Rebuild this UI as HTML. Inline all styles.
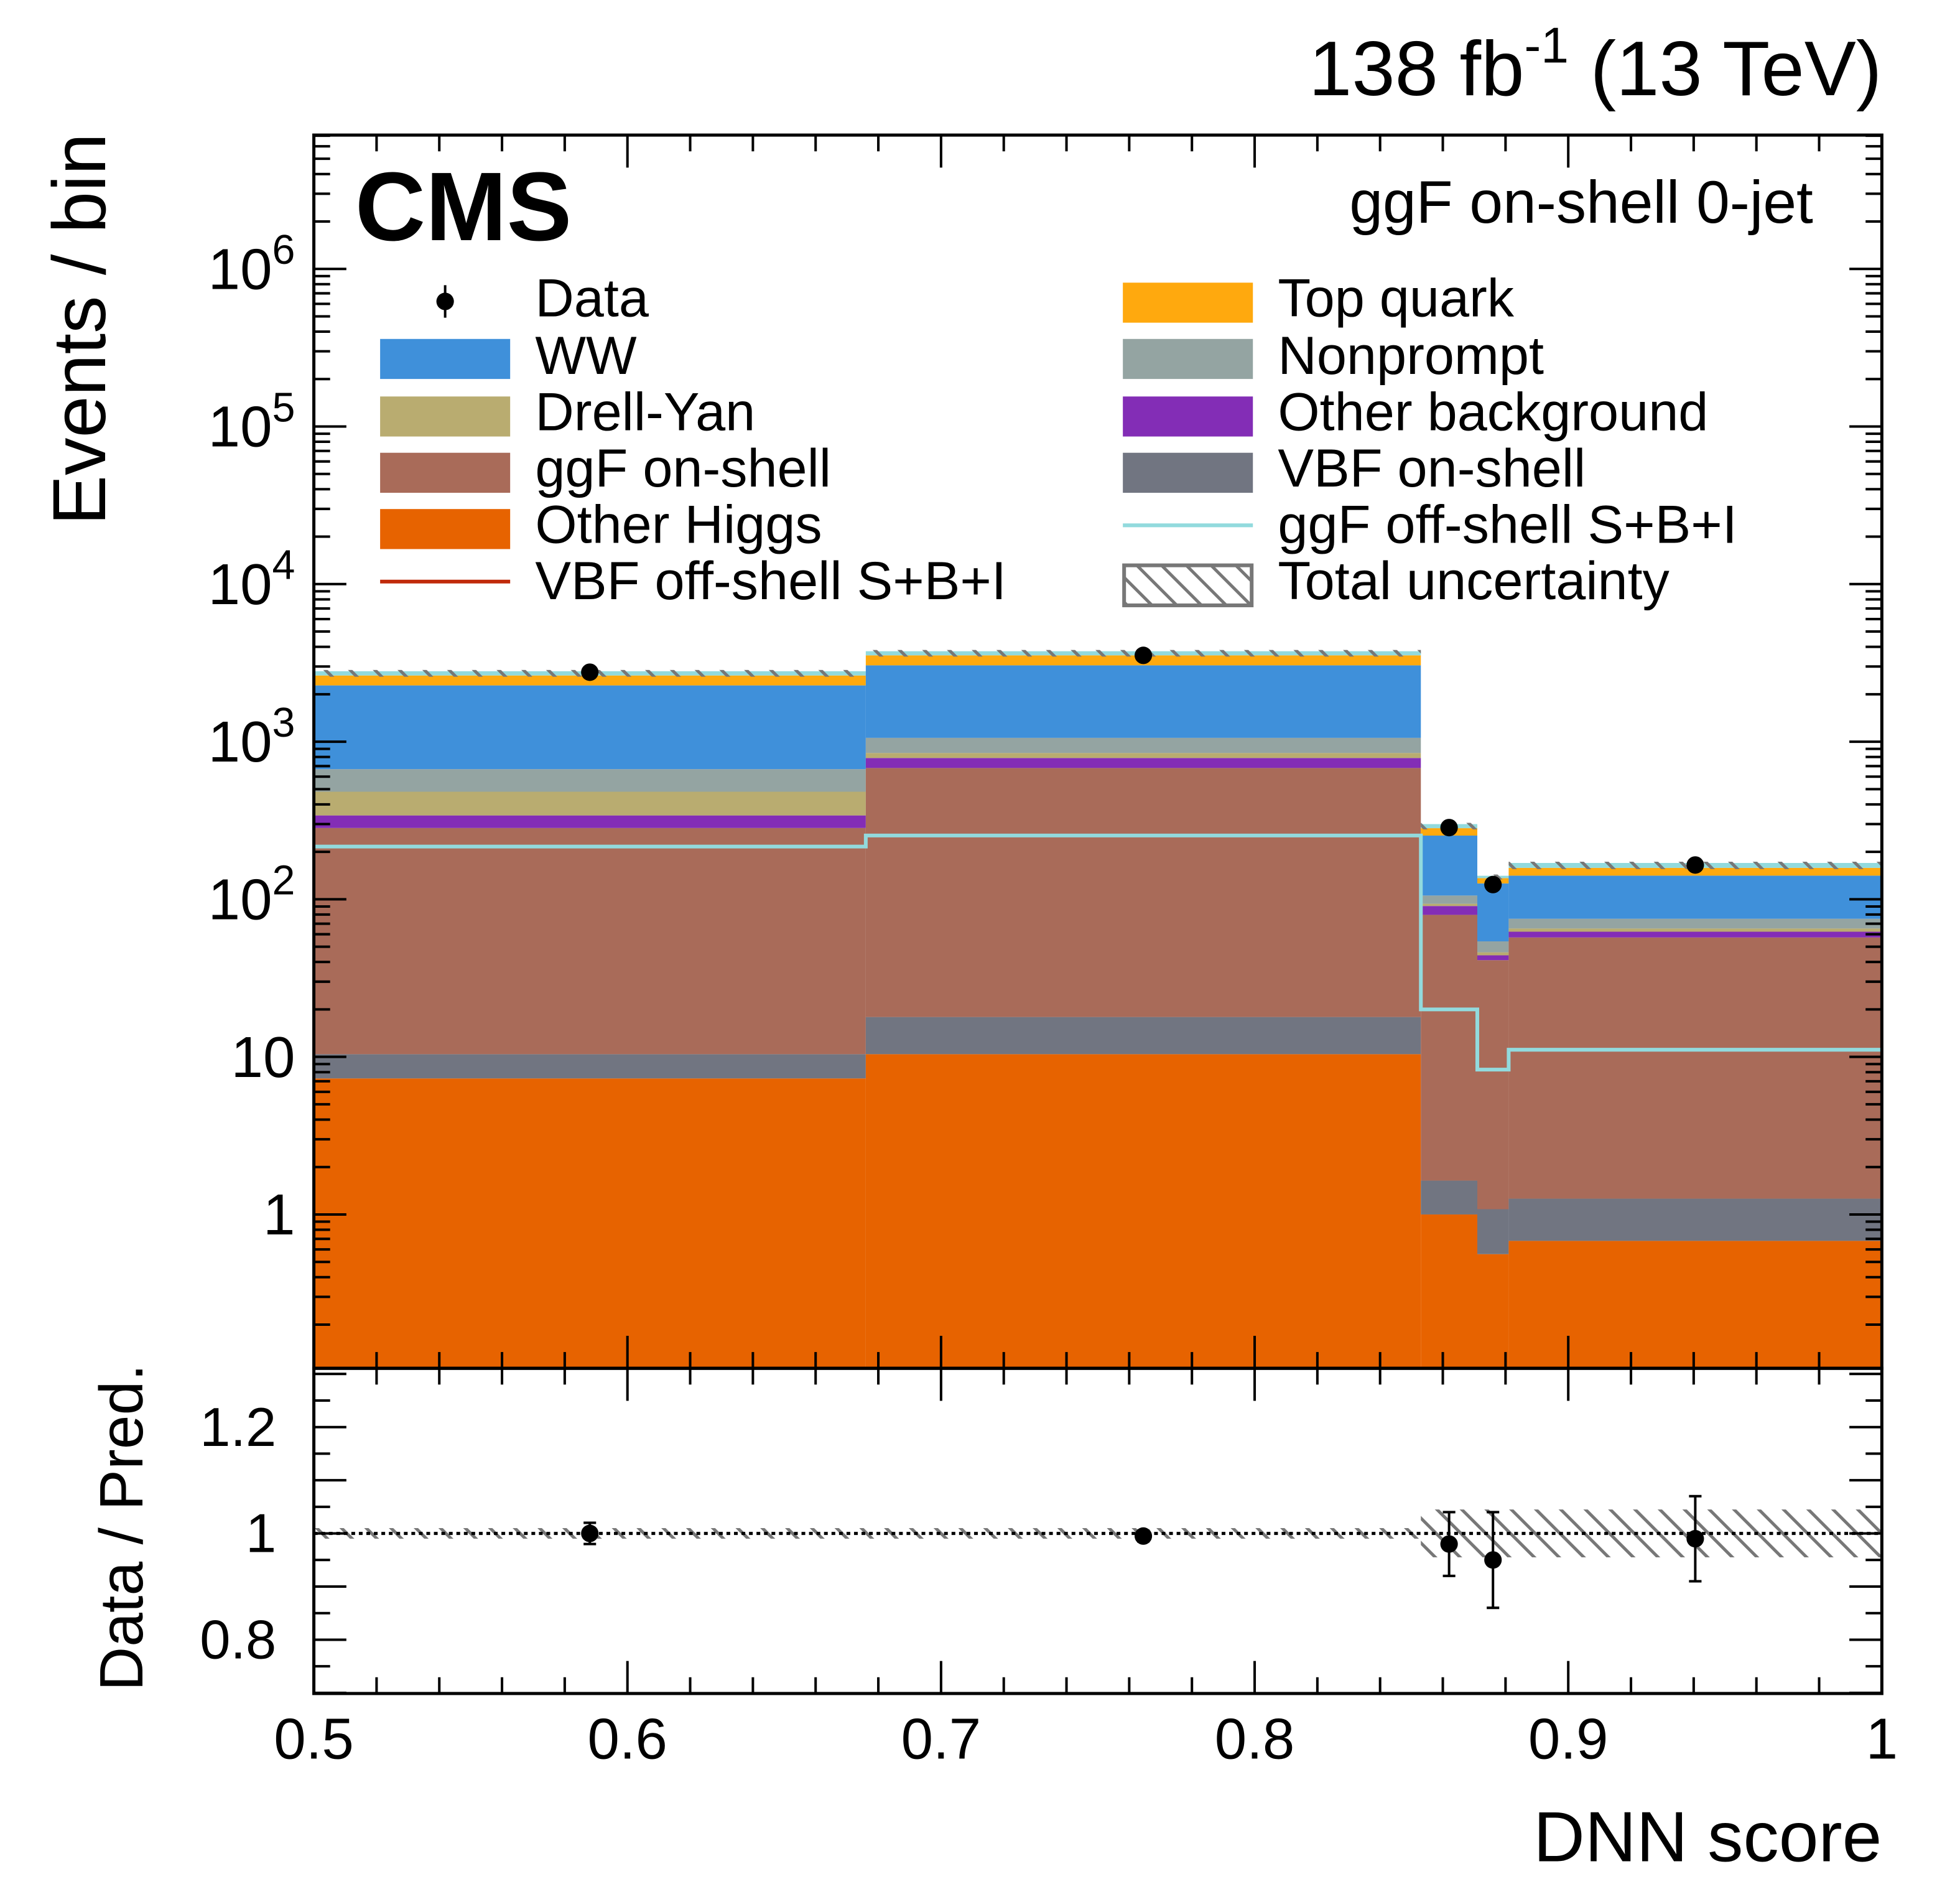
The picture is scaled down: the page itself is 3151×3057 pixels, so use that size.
<!DOCTYPE html>
<html><head><meta charset="utf-8"><style>
html,body{margin:0;padding:0;background:#fff}
svg{display:block}
text{font-family:"Liberation Sans",sans-serif;fill:#000}
</style></head><body>
<svg id="c" width="3151" height="3057" viewBox="0 0 1567.5 1520.7" preserveAspectRatio="none" xmlns="http://www.w3.org/2000/svg">
<defs>
<pattern id="hatch" patternUnits="userSpaceOnUse" width="14" height="14" patternTransform="rotate(-45)">
<line x1="0" y1="0" x2="0" y2="14" stroke="#777" stroke-width="5"/>
</pattern>
</defs>
<g id="main"></g>
</svg>
<script>
const edges=[0.5,0.676,0.853,0.871,0.881,1.0];
const procNames=["Other Higgs","VBF on-shell","ggF on-shell","Other background","Drell-Yan","Nonprompt","WW","Top quark"];
const procColors=["#e76300","#717581","#a96b59","#832db6","#b9ac70","#94a4a2","#3f90da","#ffa90e"];
const otherHiggs=[7.3,10.4,1.0,0.56,0.68];
const vbfOn=[3.1,7.5,0.64,0.52,0.58];
const ggfOn=[273,663,78,40,56];
const otherBkg=[57,107,11,3,5];
const drellYan=[141,60,3,2,3];
const nonprompt=[188,210,12,8,10];
const ww=[1606,1993,148,72,66];
const topq=[355,480,29,10,17];
const totalCyan=[2800,3750,300,141,170];
const offshell=[216,254,20,8.3,11.1];
const dataVals=[2760,3530,285,124,165];
const ratioVals=[1.0,0.995,0.98,0.95,0.99];
const ratioErr=[0.02,0.01,0.06,0.09,0.08];
const uncRel=[0.01,0.01,0.045,0.045,0.045];
const yTicks=[1,10,100,1000,10000,100000,1000000];
const yTickLabels=["1","10","10^2","10^3","10^4","10^5","10^6"];
const rTicks=[0.8,1.0,1.2];
const rTickLabels=["0.8","1","1.2"];
const xTicks=[0.5,0.6,0.7,0.8,0.9,1.0];
const xTickLabels=["0.5","0.6","0.7","0.8","0.9","1"];

const L=251,R=1505,T=108,B=1094,RT=1094,RB=1354;
const X=v=>L+(v-0.5)/0.5*(R-L);
const Y=v=>971-126*Math.log10(v);
const YR=r=>1226-(r-1)*425;
const NS="http://www.w3.org/2000/svg";
const g=document.getElementById('main');
function el(tag,attrs,parent){const e=document.createElementNS(NS,tag);for(const k in attrs)e.setAttribute(k,attrs[k]);(parent||g).appendChild(e);return e;}

const stacks=[otherHiggs,vbfOn,ggfOn,otherBkg,drellYan,nonprompt,ww,topq];
for(let b=0;b<5;b++){
  let cum=0;
  const x0=X(edges[b]),x1=X(edges[b+1]);
  for(let p=0;p<stacks.length;p++){
    const lo=cum;cum+=stacks[p][b];
    const yb=lo<=0?B:Math.min(B,Y(lo)),yt=Y(cum);
    const r=el('rect',{x:x0,y:yt,width:x1-x0,height:Math.max(0,yb-yt),fill:procColors[p]});
    
    
  }
  const yc=Y(totalCyan[b]);
  const s=el('rect',{x:x0,y:yc,width:x1-x0,height:Math.max(0,Y(cum)-yc),fill:"#92dadd"});
  
  
  const h=el('rect',{x:x0,y:yc-1,width:x1-x0,height:Math.max(3,Y(cum)-yc+2),fill:"url(#hatch)"});
  
  
}
let d="";
for(let b=0;b<5;b++){d+=(b?"L":"M")+X(edges[b])+","+Y(offshell[b])+"L"+X(edges[b+1])+","+Y(offshell[b]);}
const ol=el('path',{d:d,fill:"none",stroke:"#92dadd","stroke-width":3});


for(let b=0;b<5;b++){
  const xc=X((edges[b]+edges[b+1])/2);
  const c=el('circle',{cx:xc,cy:Y(dataVals[b]),r:7,fill:"#000"});
  
  
}
for(let b=0;b<5;b++){
  const x0=X(edges[b]),x1=X(edges[b+1]);
  const h=el('rect',{x:x0,y:YR(1+uncRel[b]),width:x1-x0,height:YR(1-uncRel[b])-YR(1+uncRel[b]),fill:"url(#hatch)"});
  
  
}
const one=el('line',{x1:L,x2:R,y1:YR(1),y2:YR(1),stroke:"#000","stroke-width":2.5,"stroke-dasharray":"3,3"});


for(let b=0;b<5;b++){
  const xc=X((edges[b]+edges[b+1])/2);
  const e=el('line',{x1:xc,x2:xc,y1:YR(ratioVals[b]+ratioErr[b]),y2:YR(ratioVals[b]-ratioErr[b]),stroke:"#000","stroke-width":2});
  
  
  for(const v of [ratioVals[b]+ratioErr[b],ratioVals[b]-ratioErr[b]]){el('line',{x1:xc-5,x2:xc+5,y1:YR(v),y2:YR(v),stroke:"#000","stroke-width":2});}
  const c=el('circle',{cx:xc,cy:YR(ratioVals[b]),r:7,fill:"#000"});
  
  
}
for(const [t,bb,n] of [[T,B,'main-frame'],[RT,RB,'ratio-frame']]){
  const f=el('rect',{x:L,y:t,width:R-L,height:bb-t,fill:"none",stroke:"#000","stroke-width":2.5});
  
  
}
for(let e=-1;e<=6;e++){for(let m=1;m<10;m++){const v=m*Math.pow(10,e);const y=Y(v);if(y<T||y>B)continue;const len=m==1?26:13;
  el('line',{x1:L,x2:L+len,y1:y,y2:y,stroke:"#000","stroke-width":2});el('line',{x1:R,x2:R-len,y1:y,y2:y,stroke:"#000","stroke-width":2});}}
for(let i=0;i<yTicks.length;i++){
  const y=Y(yTicks[i]);const lab=yTickLabels[i];
  const t=el('text',{x:236,y:y+16,"font-size":46,"text-anchor":"end"});
  if(lab.startsWith("10^")){t.textContent="10";const s=el('tspan',{dy:-20,"font-size":33},t);s.textContent=lab.slice(3);}
  else t.textContent=lab;
  
  
}
for(let k=0;k<=12;k++){const r=0.7+k*0.05;const y=YR(r);const len=(k%2==0)?26:13;
  el('line',{x1:L,x2:L+len,y1:y,y2:y,stroke:"#000","stroke-width":2});el('line',{x1:R,x2:R-len,y1:y,y2:y,stroke:"#000","stroke-width":2});}
for(let i=0;i<rTicks.length;i++){const t=el('text',{x:221,y:YR(rTicks[i])+15,"font-size":44,"text-anchor":"end"});t.textContent=rTickLabels[i];
  
  }
for(let k=0;k<=25;k++){const v=0.5+k*0.02;const x=X(v);const len=(k%5==0)?26:13;
  for(const [a,s] of [[T,1],[B,-1],[RT,1],[RB,-1]]){el('line',{x1:x,x2:x,y1:a,y2:a+s*len,stroke:"#000","stroke-width":2});}}
for(let i=0;i<xTicks.length;i++){const t=el('text',{x:X(xTicks[i]),y:1406,"font-size":46,"text-anchor":"middle"});t.textContent=xTickLabels[i];
  
  }
</script>
<svg width="3151" height="3057" viewBox="0 0 1567.5 1520.7" preserveAspectRatio="none" style="position:absolute;left:0;top:0" xmlns="http://www.w3.org/2000/svg">
<defs><pattern id="hatch2" patternUnits="userSpaceOnUse" width="14" height="14" patternTransform="rotate(-45)"><line x1="0" y1="0" x2="0" y2="14" stroke="#777" stroke-width="5"/></pattern></defs>
<text x="1505" y="76" font-size="62" text-anchor="end">138 fb<tspan dy="-26" font-size="40">-1</tspan><tspan dy="26"> (13 TeV)</tspan></text>
<text x="284" y="192" font-size="78" font-weight="bold">CMS</text>
<text x="1450" y="178" font-size="48" text-anchor="end">ggF on-shell 0-jet</text>
<text transform="translate(84,420) rotate(-90)" font-size="60">Events / bin</text>
<text transform="translate(114,1352) rotate(-90)" font-size="49">Data / Pred.</text>
<text x="1505" y="1488" font-size="57" text-anchor="end">DNN score</text>
<g font-size="43">
<line x1="356" x2="356" y1="228" y2="254" stroke="#000" stroke-width="2"/><circle cx="356" cy="241" r="7" fill="#000"/><text x="428" y="253">Data</text>
<rect x="304" y="271" width="104" height="32" fill="#3f90da"/><text x="428" y="299">WW</text>
<rect x="304" y="317" width="104" height="32" fill="#b9ac70"/><text x="428" y="344">Drell-Yan</text>
<rect x="304" y="362" width="104" height="32" fill="#a96b59"/><text x="428" y="389">ggF on-shell</text>
<rect x="304" y="407" width="104" height="32" fill="#e76300"/><text x="428" y="434">Other Higgs</text>
<line x1="304" x2="408" y1="465" y2="465" stroke="#c02a0a" stroke-width="3"/><text x="428" y="479">VBF off-shell S+B+I</text>
<rect x="898" y="226" width="104" height="32" fill="#ffa90e"/><text x="1022" y="253">Top quark</text>
<rect x="898" y="271" width="104" height="32" fill="#94a4a2"/><text x="1022" y="299">Nonprompt</text>
<rect x="898" y="317" width="104" height="32" fill="#832db6"/><text x="1022" y="344">Other background</text>
<rect x="898" y="362" width="104" height="32" fill="#717581"/><text x="1022" y="389">VBF on-shell</text>
<line x1="898" x2="1002" y1="420" y2="420" stroke="#92dadd" stroke-width="3"/><text x="1022" y="434">ggF off-shell S+B+I</text>
<rect x="899" y="452" width="102" height="32" fill="url(#hatch2)" stroke="#777" stroke-width="3"/><text x="1022" y="479">Total uncertainty</text>
</g>
</svg>
</body></html>
